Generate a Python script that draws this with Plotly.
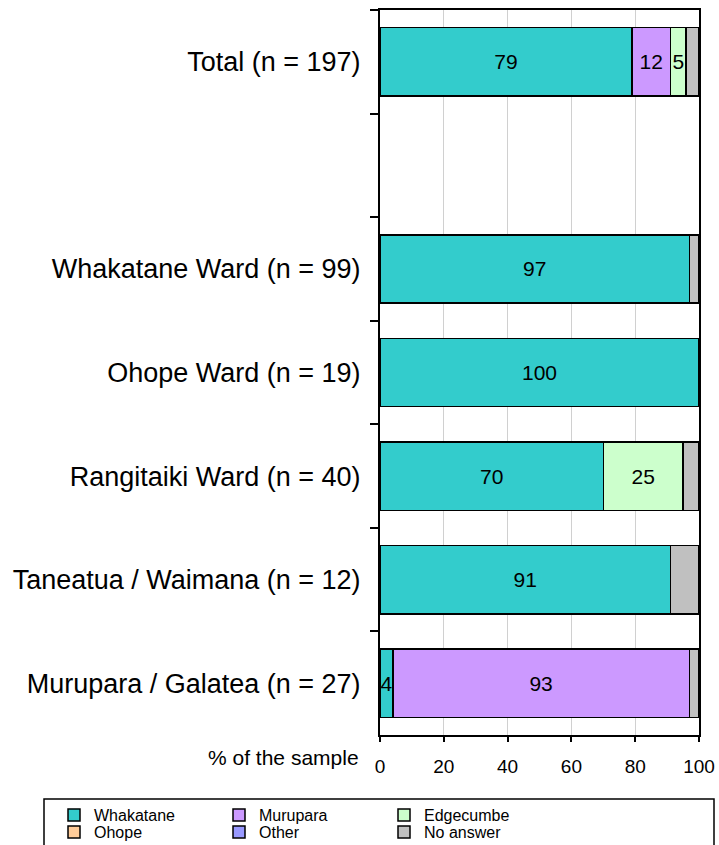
import plotly.graph_objects as go

# Categories, top to bottom (the blank entry leaves a gap under the total)
categories = [
    "Total (n = 197)",
    " ",
    "Whakatane Ward (n = 99)",
    "Ohope Ward (n = 19)",
    "Rangitaiki Ward (n = 40)",
    "Taneatua / Waimana (n = 12)",
    "Murupara / Galatea (n = 27)",
]

# Percent of each sample by response
whakatane = [79, None, 97, 100, 70, 91, 4]
murupara = [12, None, 0, 0, 0, 0, 93]
edgecumbe = [5, None, 0, 0, 25, 0, 0]
ohope = [0, None, 0, 0, 0, 0, 0]
other = [0, None, 0, 0, 0, 0, 0]
no_answer = [4, None, 3, 0, 5, 9, 3]

x_ticks = [0, 20, 40, 60, 80, 100]

FONT = "Liberation Sans, Arial, sans-serif"
W, H = 719, 845
ML, MR, MT, MB = 380, 20, 10, 110
PW = W - ML - MR
PH = H - MT - MB


def px_x(px):
    return (px - ML) / PW


def px_y(py):
    return (H - MB - py) / PH


# name, values, fill colour, show value labels, legend row
series = [
    ("Whakatane", whakatane, "#33CCCC", True, "legend"),
    ("Murupara", murupara, "#CC99FF", True, "legend"),
    ("Edgecumbe", edgecumbe, "#CCFFCC", True, "legend"),
    ("Ohope", ohope, "#FFCC99", False, "legend2"),
    ("Other", other, "#9999FF", False, "legend2"),
    ("No answer", no_answer, "#C0C0C0", False, "legend2"),
]

fig = go.Figure()
for name, vals, color, labelled, leg in series:
    fig.add_trace(go.Bar(
        name=name,
        y=categories,
        x=vals,
        orientation="h",
        width=0.66,
        marker=dict(color=color, line=dict(color="black", width=1.5)),
        texttemplate="%{x}" if labelled else "",
        textposition="inside" if labelled else "none",
        insidetextanchor="middle",
        textangle=0,
        constraintext="none",
        textfont=dict(family=FONT, size=21, color="black"),
        legend=leg,
        hoverinfo="skip",
    ))

legend_common = dict(
    orientation="h",
    xanchor="left",
    yanchor="top",
    x=px_x(54),
    font=dict(family=FONT, size=16, color="black"),
    bgcolor="rgba(0,0,0,0)",
    borderwidth=0,
    itemwidth=30,
    entrywidth=120,
    entrywidthmode="pixels",
    traceorder="normal",
)

fig.update_layout(
    width=W,
    height=H,
    margin=dict(l=ML, r=MR, t=MT, b=MB, autoexpand=False),
    paper_bgcolor="white",
    plot_bgcolor="white",
    barmode="stack",
    bargap=0.34,
    font=dict(family=FONT, color="black"),
    showlegend=True,
    legend=dict(y=px_y(798), **legend_common),
    legend2=dict(y=px_y(815), **legend_common),
    xaxis=dict(
        range=[0, 100],
        tickvals=x_ticks,
        ticktext=[str(v) for v in x_ticks],
        ticks="outside",
        ticklen=5,
        tickwidth=1.5,
        tickcolor="black",
        ticklabelstandoff=8,
        tickfont=dict(family=FONT, size=19, color="black"),
        showline=True,
        linecolor="black",
        linewidth=2,
        mirror=True,
        showgrid=True,
        gridcolor="#D0D0D0",
        gridwidth=1,
        zeroline=False,
        fixedrange=True,
    ),
    yaxis=dict(
        type="category",
        categoryorder="array",
        categoryarray=categories,
        autorange="reversed",
        tickson="boundaries",
        ticks="outside",
        ticklen=8,
        tickwidth=1.5,
        tickcolor="black",
        ticklabelstandoff=12,
        tickfont=dict(family=FONT, size=27, color="black"),
        showline=True,
        linecolor="black",
        linewidth=2,
        mirror=True,
        showgrid=False,
        zeroline=False,
        fixedrange=True,
    ),
    shapes=[
        dict(
            type="rect",
            xref="paper",
            yref="paper",
            x0=px_x(44),
            x1=px_x(714),
            y0=px_y(799),
            y1=px_y(850),
            line=dict(color="black", width=1.5),
            fillcolor="rgba(0,0,0,0)",
            layer="above",
        )
    ],
    annotations=[
        dict(
            text="% of the sample",
            xref="paper",
            yref="paper",
            x=px_x(361),
            y=px_y(757),
            xanchor="right",
            yanchor="middle",
            showarrow=False,
            font=dict(family=FONT, size=21, color="black"),
        )
    ],
)

fig.write_html("out.html")
